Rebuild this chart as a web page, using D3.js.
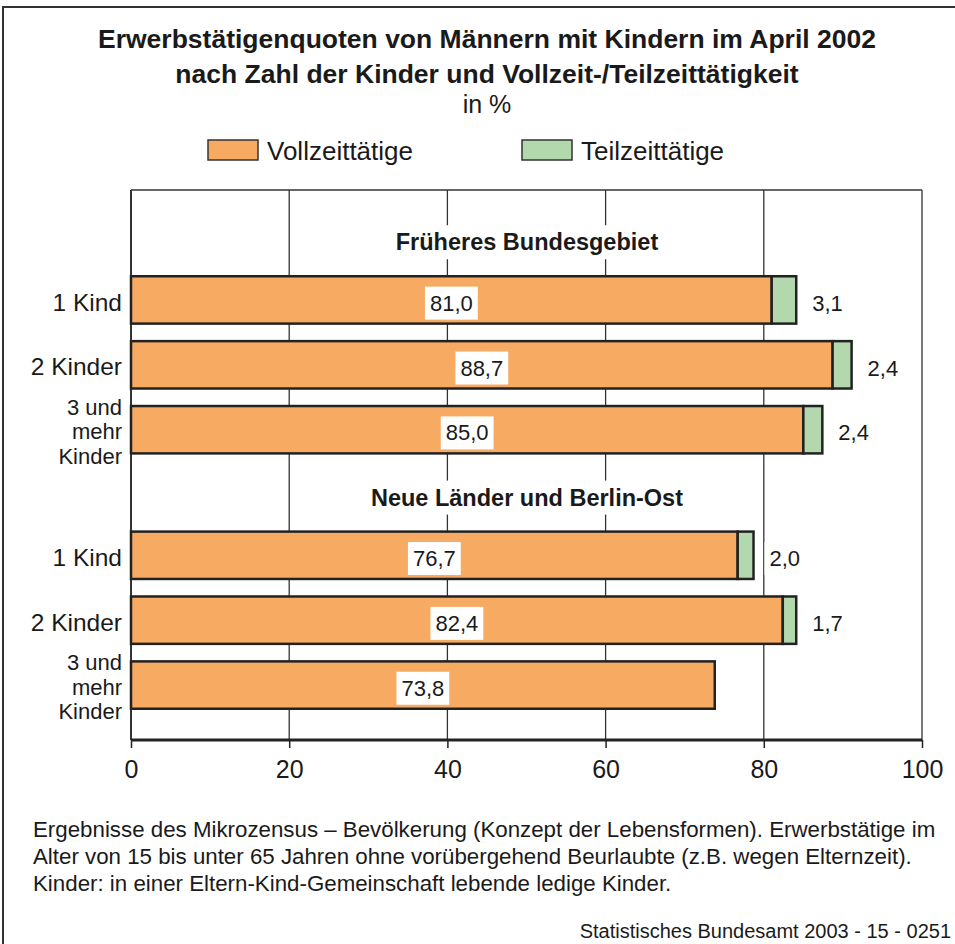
<!DOCTYPE html>
<meta charset="utf-8">
<head>
<style>
  body { margin: 0; background: #fff; }
  text { font-family: "Liberation Sans", "DejaVu Sans", sans-serif; fill: #1a1a1a; }
</style>
<script src="https://d3js.org/d3.v7.min.js"></script>
</head>
<div id="chart"></div>
<script>
// data
var groups = ["Früheres Bundesgebiet", "Neue Länder und Berlin-Ost"];
var categories = ["1 Kind", "2 Kinder", "3 und mehr Kinder"];
var vollzeit = [[81.0, 88.7, 85.0], [76.7, 82.4, 73.8]];
var teilzeit = [[3.1, 2.4, 2.4], [2.0, 1.7, null]];
var xTicks = [0, 20, 40, 60, 80, 100];
var seriesNames = ["Vollzeittätige", "Teilzeittätige"];
var colors = ["#f7aa62", "#b3d8ad"];

var W = 955, H = 944;
var svg = d3.select("#chart").append("svg").attr("width", W).attr("height", H);

// outer frame
svg.append("path").attr("d", "M3,944V7H960").attr("fill", "none").attr("stroke", "#333").attr("stroke-width", 2);

// titles
svg.append("text").attr("x", 487).attr("y", 48).attr("text-anchor", "middle")
  .style("font-size", "26.5px").style("font-weight", "bold")
  .text("Erwerbstätigenquoten von Männern mit Kindern im April 2002");
svg.append("text").attr("x", 487).attr("y", 83).attr("text-anchor", "middle")
  .style("font-size", "26.5px").style("font-weight", "bold")
  .text("nach Zahl der Kinder und Vollzeit-/Teilzeittätigkeit");
svg.append("text").attr("x", 487).attr("y", 113).attr("text-anchor", "middle")
  .style("font-size", "25px").text("in %");

// legend
var legX = [208, 522];
seriesNames.forEach(function(n, i) {
  svg.append("rect").attr("x", legX[i]).attr("y", 140).attr("width", 50).attr("height", 20)
    .attr("fill", colors[i]).attr("stroke", "#333").attr("stroke-width", 1.5);
  svg.append("text").attr("x", legX[i] + 59).attr("y", 160).style("font-size", "26px").text(n);
});

// scales
var x = d3.scaleLinear().domain([0, 100]).range([131, 922]);
var plotTop = 190, plotBottom = 740;
var gScale = d3.scaleBand().domain(groups).range([223, 712]).paddingInner(0.085);
var yScale = d3.scaleBand().domain(categories).range([50, gScale.bandwidth()]).paddingInner(0.27).paddingOuter(0.05);

// grid
svg.append("g").selectAll("line").data(xTicks.slice(1)).enter().append("line")
  .attr("x1", function(d) { return x(d); }).attr("x2", function(d) { return x(d); })
  .attr("y1", plotTop).attr("y2", plotBottom).attr("stroke", "#333").attr("stroke-width", 1.3);
svg.append("line").attr("x1", x(0)).attr("x2", x(100)).attr("y1", plotTop).attr("y2", plotTop)
  .attr("stroke", "#333").attr("stroke-width", 1.5);
svg.append("line").attr("x1", x(0)).attr("x2", x(0)).attr("y1", plotTop).attr("y2", plotBottom)
  .attr("stroke", "#333").attr("stroke-width", 2);

// axis
var axis = svg.append("g").attr("transform", "translate(0," + plotBottom + ")")
  .call(d3.axisBottom(x).tickValues(xTicks).tickSize(8).tickPadding(12).tickFormat(d3.format("d")));
axis.select(".domain").attr("stroke", "#222").attr("stroke-width", 3).attr("d", "M" + x(0) + ",0H" + x(100));
axis.selectAll(".tick line").attr("stroke", "#222").attr("stroke-width", 1.5);
axis.selectAll(".tick text").style("font-size", "25px").style("font-family", "'Liberation Sans', sans-serif").attr("fill", "#1a1a1a");

function labelBox(g, cx, cy, txt, size, weight, anchor) {
  var t = g.append("text").attr("x", cx).attr("y", cy).attr("dy", "0.35em")
    .attr("text-anchor", anchor || "middle").style("font-size", size).style("font-weight", weight || "normal").text(txt);
  var b = t.node().getBBox();
  g.insert("rect", function() { return t.node(); })
    .attr("x", b.x - 5).attr("y", b.y - 4).attr("width", b.width + 10).attr("height", b.height + 8).attr("fill", "#fff");
}

var fmt = function(v) { return v.toFixed(1).replace(".", ","); };

groups.forEach(function(grp, gi) {
  var g = svg.append("g").attr("transform", "translate(0," + gScale(grp) + ")");
  labelBox(g, 527, 19, grp, "23.5px", "bold");
  categories.forEach(function(cat, ci) {
    var y0 = yScale(cat), h = yScale.bandwidth(), v = vollzeit[gi][ci], t = teilzeit[gi][ci];
    g.append("rect").attr("x", x(0)).attr("y", y0).attr("width", x(v) - x(0)).attr("height", h)
      .attr("fill", colors[0]).attr("stroke", "#222").attr("stroke-width", 2.5);
    if (t != null) {
      g.append("rect").attr("x", x(v)).attr("y", y0).attr("width", x(v + t) - x(v)).attr("height", h)
        .attr("fill", colors[1]).attr("stroke", "#222").attr("stroke-width", 2.5);
      labelBox(g, x(v + t) + 16, y0 + h / 2 + 3, fmt(t), "22px", "normal", "start");
    }
    labelBox(g, (x(0) + x(v)) / 2, y0 + h / 2 + 3, fmt(v), "22px");
    // category label
    var words = cat === "3 und mehr Kinder" ? ["3 und", "mehr", "Kinder"] : [cat];
    var lt = g.append("text").attr("text-anchor", "end").style("font-size", words.length > 1 ? "22px" : "24.5px");
    words.forEach(function(w, wi) {
      lt.append("tspan").attr("x", 122).attr("y", y0 + h / 2 + 2 + (wi - (words.length - 1) / 2) * 24.5).attr("dy", "0.35em").text(w);
    });
  });
});

// notes
var notes = ["Ergebnisse des Mikrozensus – Bevölkerung (Konzept der Lebensformen). Erwerbstätige im",
  "Alter von 15 bis unter 65 Jahren ohne vorübergehend Beurlaubte (z.B. wegen Elternzeit).",
  "Kinder: in einer Eltern-Kind-Gemeinschaft lebende ledige Kinder."];
notes.forEach(function(n, i) {
  svg.append("text").attr("x", 33).attr("y", 837 + i * 27).style("font-size", "22.3px").text(n);
});
svg.append("text").attr("x", 951).attr("y", 938).attr("text-anchor", "end").style("font-size", "20px").text("Statistisches Bundesamt 2003 - 15 - 0251");
</script>
